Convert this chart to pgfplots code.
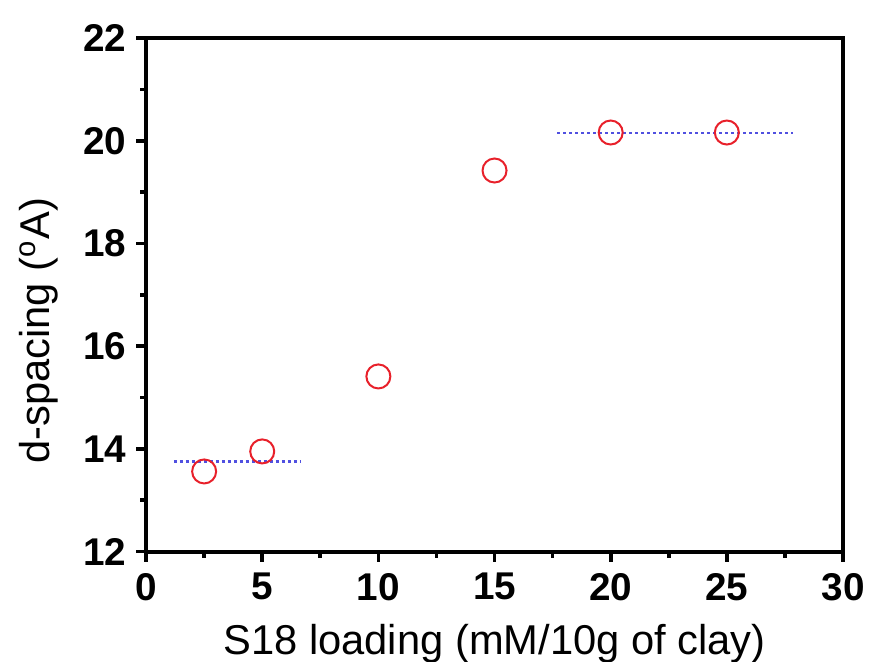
\documentclass[border=0pt]{standalone}
\usepackage{pgfplots}
\pgfplotsset{compat=1.18}
\usepackage{fontspec}
\setmainfont{Liberation Sans}
\definecolor{ptred}{HTML}{E8202A}
\definecolor{fitblue}{HTML}{5050E0}

\begin{document}
\begin{tikzpicture}
\begin{axis}[
  scale only axis, width=209pt, height=154pt,
  xmin=0, xmax=30, ymin=12, ymax=22,
  xtick={0,5,...,30}, ytick={12,14,...,22},
  minor tick num=1,
  tick pos=left, tick align=outside,
  major tick length=3pt, minor tick length=1.8pt,
  every tick/.style={black, line width=1.1pt},
  axis line style={line width=1.2pt},
  /pgf/number format/assume math mode=true,
  tick label style={font=\bfseries\fontsize{11.6}{12}\selectfont},
  yticklabel style={xshift=0.6pt},
  label style={font=\fontsize{12.5}{14}\selectfont},
  xlabel={S18 loading (mM/10g of clay)},
  ylabel={d-spacing (\textsuperscript{o}A)},
  xlabel style={at={(axis description cs:0.5,-0.2)}, anchor=base, inner sep=0pt},
  ylabel style={at={(axis description cs:-0.138,0.43)}, anchor=base, inner sep=0pt},
]
\addplot[fitblue, densely dotted, line width=0.8pt] coordinates {(1.2,13.76) (6.65,13.76)};
\addplot[fitblue, densely dotted, line width=0.8pt] coordinates {(17.7,20.15) (27.85,20.15)};
\addplot[only marks, mark=o, mark size=3.6pt, mark options={ptred, line width=0.6pt}]
  coordinates {(2.5,13.56) (5,13.95) (10,15.41) (15,19.42) (20,20.16) (25,20.16)};
\node[overlay, anchor=base west, inner sep=0pt, text=black!10, font=\fontsize{16.8}{18}\selectfont]
  at (axis description cs:-0.027,-0.136) {Copyright by Mahidol University};
\coordinate (ll) at (axis description cs:0,0);
\coordinate (ur) at (axis description cs:1,1);
\end{axis}
\pgfresetboundingbox
\path ([xshift=-43.8pt,yshift=-33pt]ll) rectangle ([xshift=7.8pt,yshift=11.4pt]ur);
\end{tikzpicture}
\end{document}
